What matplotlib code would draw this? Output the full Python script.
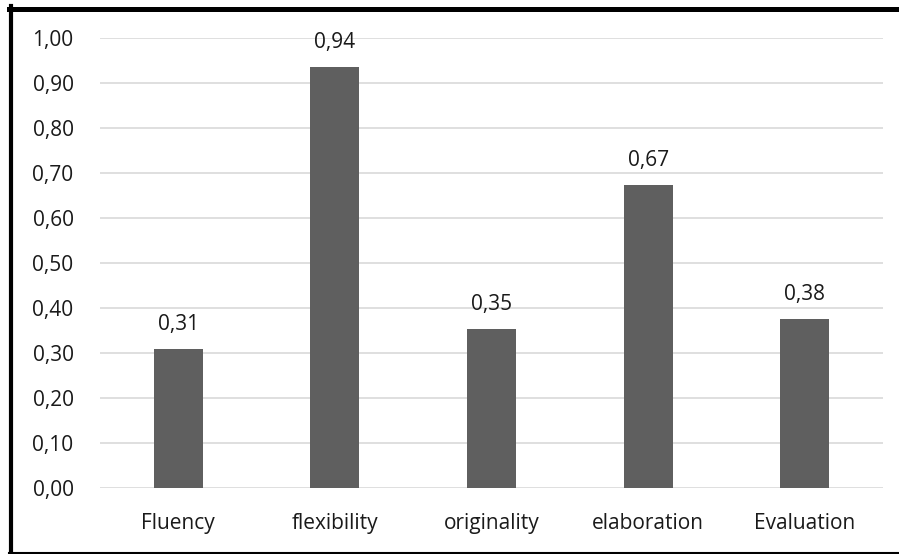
import matplotlib
matplotlib.use("Agg")
import matplotlib.pyplot as plt
from matplotlib.lines import Line2D

categories = ["Fluency", "flexibility", "originality", "elaboration", "Evaluation"]
values = [0.31, 0.935, 0.353, 0.673, 0.375]
value_labels = ["0,31", "0,94", "0,35", "0,67", "0,38"]
yticks = [0.0, 0.1, 0.2, 0.3, 0.4, 0.5, 0.6, 0.7, 0.8, 0.9, 1.0]

plt.rcParams['font.family'] = ['Open Sans', 'DejaVu Sans']

W, H = 899, 554
fig = plt.figure(figsize=(W / 100, H / 100), dpi=100)
ax = fig.add_axes([100 / W, 1 - 488 / H, 783 / W, 450 / H])

x = list(range(len(categories)))
ax.bar(x, values, width=0.313, color="#5f5f5f", zorder=3)
for xi, v, lab in zip(x, values, value_labels):
    ax.annotate(lab, (xi, v), xytext=(0, 10), textcoords="offset points",
                ha="center", va="bottom", fontsize=15, color="#1a1a1a")

ax.set_xlim(-0.5, len(categories) - 0.5)
ax.set_ylim(0, 1.0)
ax.set_yticks(yticks)
ax.set_yticklabels([f"{t:.2f}".replace(".", ",") for t in yticks])
ax.set_xticks(x)
ax.set_xticklabels(categories)
ax.grid(axis="y", color="#d9d9d9", linewidth=1.2, zorder=0)
ax.tick_params(length=0, labelsize=15, colors="#1a1a1a")
ax.tick_params(axis="y", pad=19)
ax.tick_params(axis="x", pad=18)
for s in ax.spines.values():
    s.set_visible(False)

# black frame around the picture (top, left, bottom)
def px_line(x0, y0, x1, y1, lw):
    fig.add_artist(Line2D([x0 / W, x1 / W], [1 - y0 / H, 1 - y1 / H],
                          transform=fig.transFigure, color="black", linewidth=lw))

px_line(9, 8.5, W, 8.5, 3.6)
px_line(11, 6, 11, H, 3.0)
px_line(9, 552.5, W, 552.5, 1.5)

fig.savefig("out.png", dpi=100)
